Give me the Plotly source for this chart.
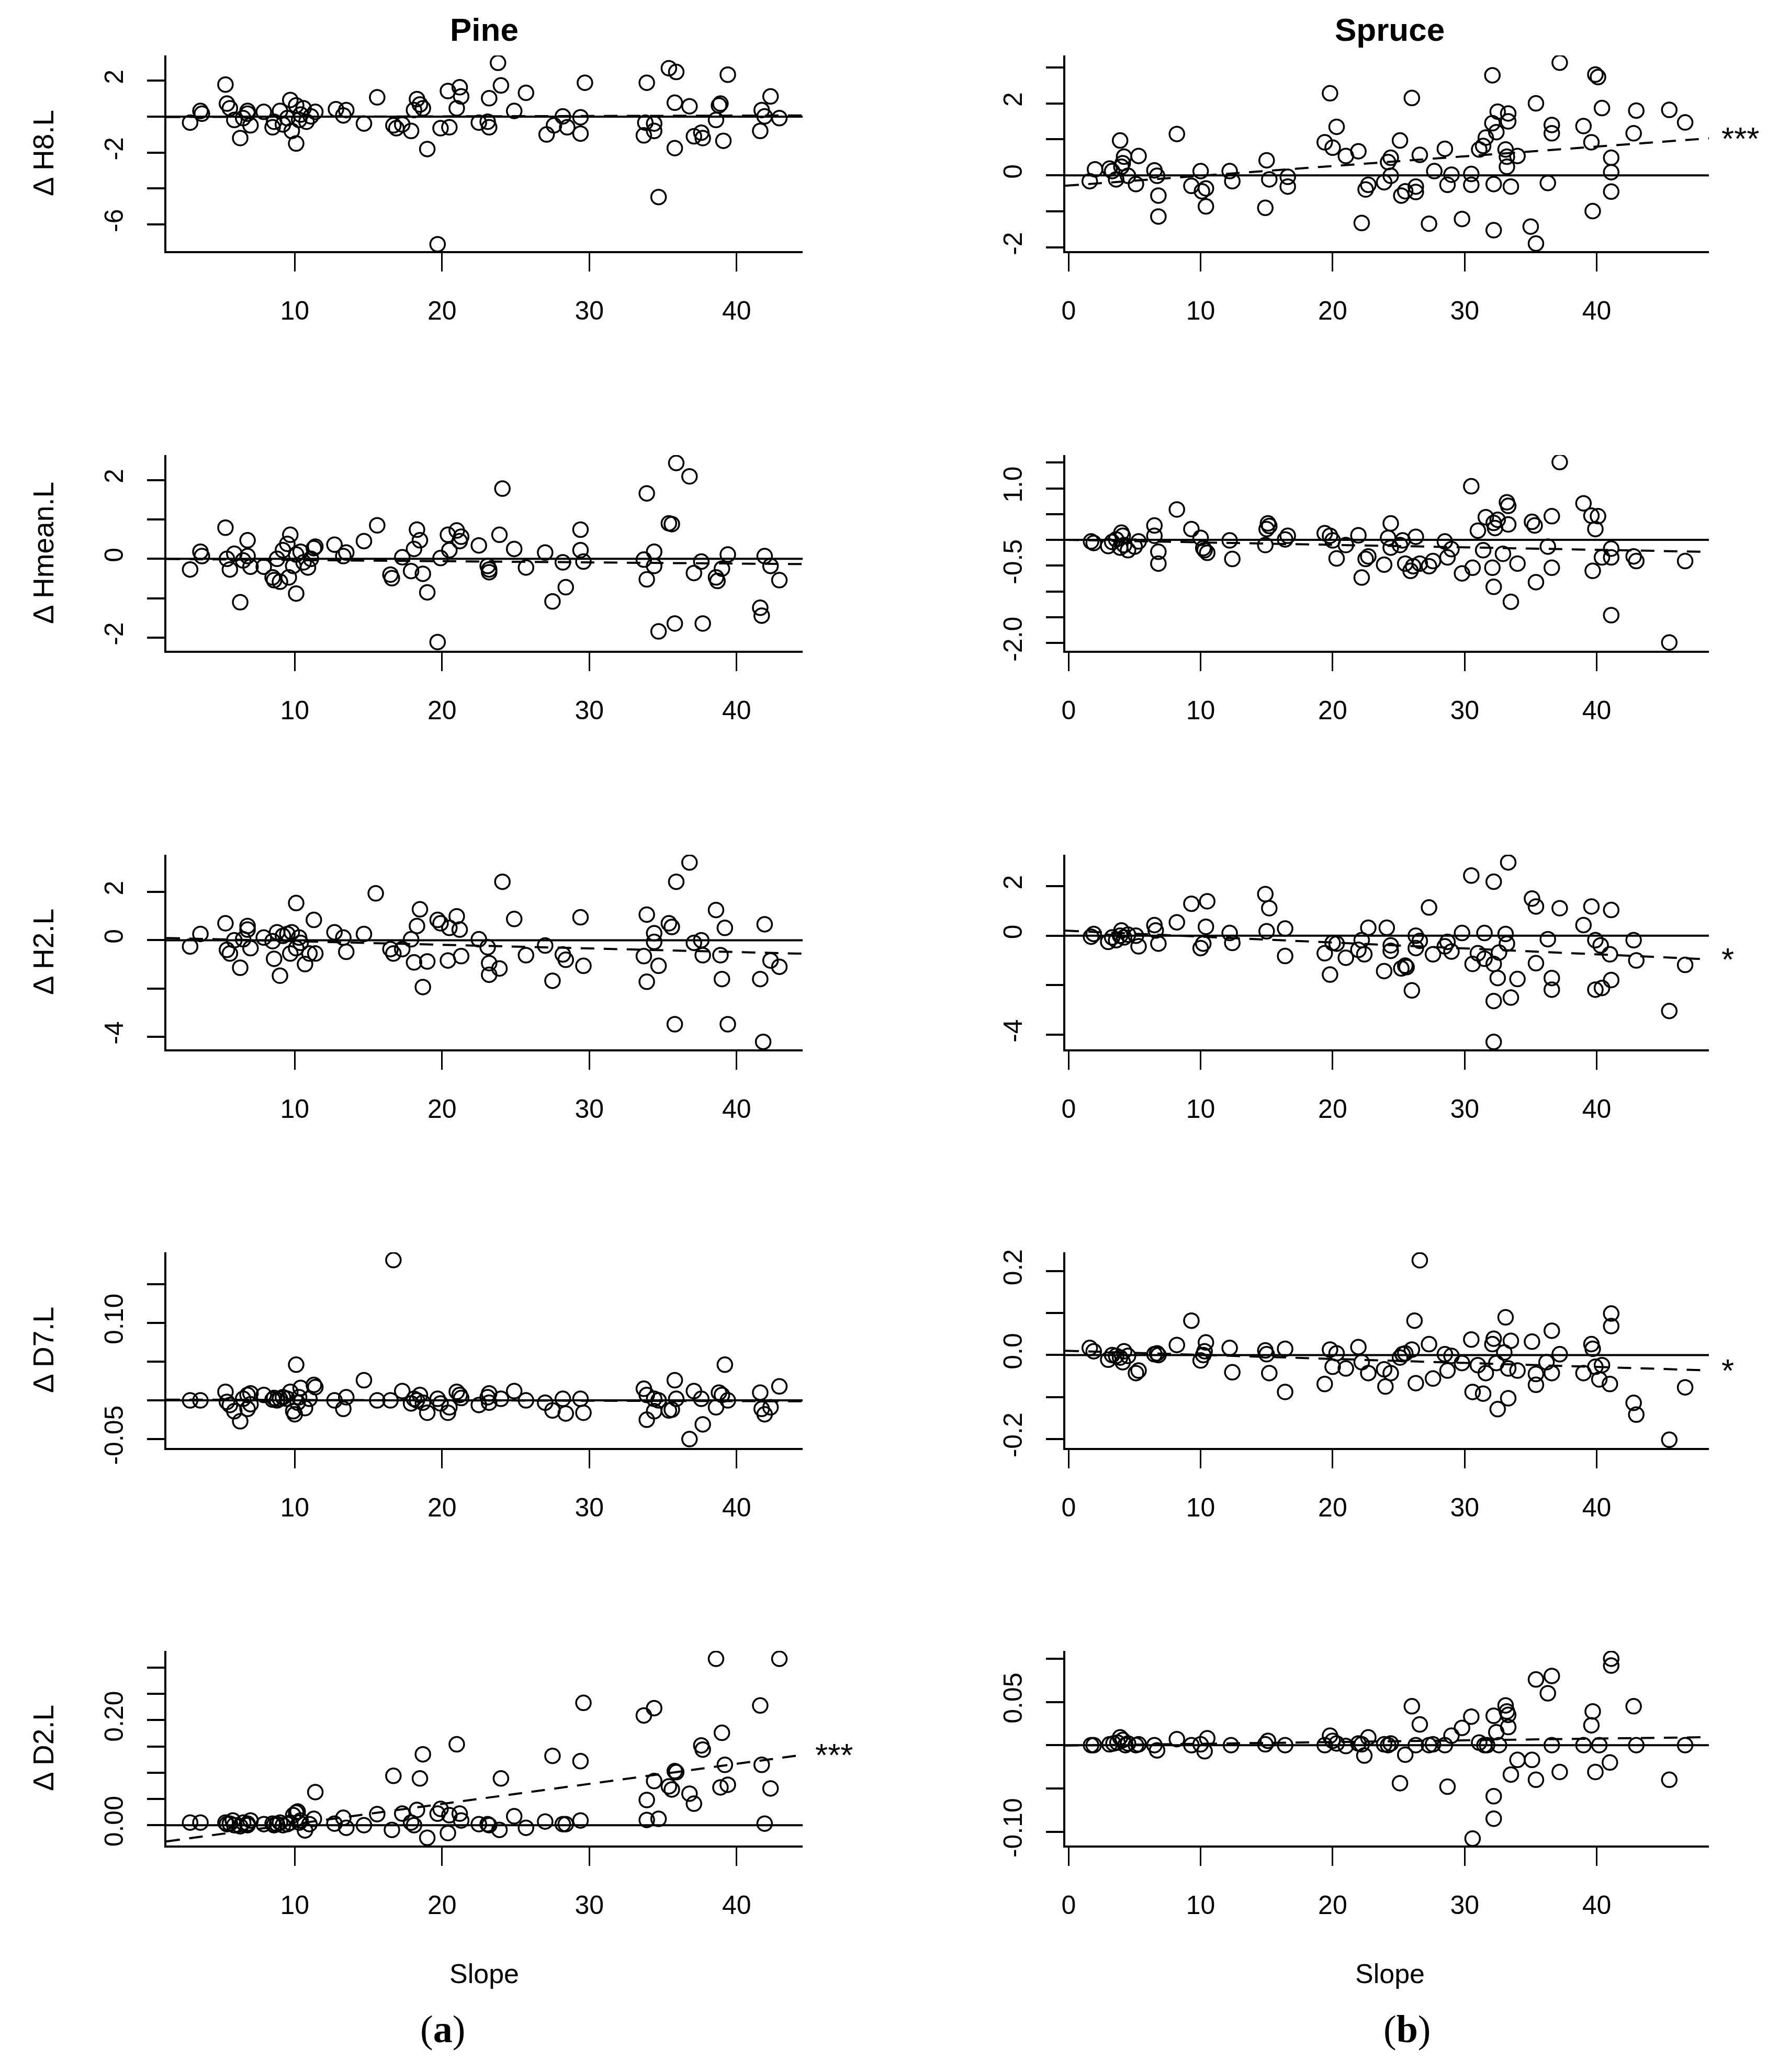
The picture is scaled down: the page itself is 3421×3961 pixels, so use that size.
import plotly.graph_objects as go

# ---------------- data: (slope, delta) ----------------
pine_h8 = [(2.9, -0.33), (3.6, 0.32), (3.7, 0.17), (5.3, 1.79), (5.4, 0.73), (5.6, 0.47),
           (5.9, -0.18), (6.3, -1.19), (6.5, -0.08), (6.8, 0.32), (6.8, 0.17), (7.0, -0.48),
           (7.9, 0.27), (8.5, -0.59), (8.6, -0.28), (9.0, 0.32), (9.2, -0.43), (9.5, -0.08),
           (9.7, 0.93), (9.8, -0.79), (10.1, -1.49), (10.1, 0.63), (10.3, -0.18), (10.4, 0.12),
           (10.6, 0.47), (10.8, -0.28), (11.1, 0.02), (11.4, 0.27), (12.8, 0.42), (13.3, 0.07),
           (13.5, 0.37), (14.7, -0.38), (15.6, 1.08), (16.7, -0.48), (16.9, -0.64), (17.3, -0.43),
           (17.9, -0.79), (18.1, 0.37), (18.3, 0.98), (18.5, 0.68), (18.7, 0.47), (19.0, -1.80),
           (19.7, -7.10), (19.9, -0.64), (20.5, -0.59), (20.4, 1.43), (21.0, 0.47), (21.2, 1.64),
           (21.3, 1.13), (22.5, -0.33), (23.1, -0.28), (23.2, 1.03), (23.2, -0.59), (23.8, 3.0),
           (24.0, 1.74), (24.9, 0.32), (25.7, 1.33), (27.1, -0.99), (27.6, -0.48), (28.2, 0.02),
           (28.5, -0.59), (29.4, -0.03), (29.4, -0.94), (29.7, 1.89), (33.7, -1.04), (33.8, -0.33),
           (33.9, 1.89), (34.4, -0.38), (34.4, -0.79), (34.7, -4.47), (35.4, 2.70), (35.8, -1.75),
           (35.9, 2.49), (35.8, 0.78), (36.8, 0.58), (37.1, -1.09), (37.6, -0.89), (37.7, -1.19),
           (38.6, -0.18), (38.8, 0.63), (38.9, 0.73), (39.1, -1.34), (39.4, 2.34), (41.6, -0.79),
           (41.7, 0.37), (41.9, 0.02), (42.3, 1.13), (42.9, -0.08)]

spruce_h8 = [(1.6, -0.16), (2.0, 0.17), (3.1, 0.19), (3.3, 0.12), (3.6, -0.11), (3.9, 0.97),
             (4.0, 0.24), (4.1, 0.34), (4.2, 0.52), (4.5, -0.01), (5.1, -0.24), (5.3, 0.54),
             (6.5, 0.14), (6.7, -0.01), (6.8, -0.56), (6.8, -1.14), (8.2, 1.15), (9.3, -0.29),
             (10.0, 0.12), (10.1, -0.44), (10.4, -0.36), (10.4, -0.86), (12.2, 0.12), (12.4, -0.16),
             (14.9, -0.90), (15.0, 0.42), (15.2, -0.11), (16.6, -0.04), (16.6, -0.31), (19.4, 0.92),
             (19.8, 2.28), (20.0, 0.77), (20.3, 1.35), (21.0, 0.54), (21.95, 0.67), (22.2, -1.32),
             (22.5, -0.39), (22.7, -0.26), (23.9, -0.19), (24.2, 0.37), (24.4, 0.49), (24.4, -0.01),
             (25.1, 0.97), (25.2, -0.56), (25.5, -0.44), (26.0, 2.15), (26.3, -0.31), (26.3, -0.46),
             (26.6, 0.57), (27.3, -1.34), (27.7, 0.12), (28.5, 0.74), (28.7, -0.26), (29.0, 0.02),
             (29.8, -1.21), (30.5, 0.04), (30.5, -0.26), (31.1, 0.72), (31.4, 0.82), (31.6, 1.05),
             (32.1, 2.78), (32.1, 1.45), (32.4, 1.20), (32.2, -0.24), (32.2, -1.52), (32.5, 1.77),
             (33.1, 0.72), (33.2, 0.24), (33.2, 0.52), (33.3, 1.72), (33.3, 1.50), (33.5, -0.31),
             (34.0, 0.54), (35.0, -1.42), (35.4, 2.00), (35.4, -1.89), (36.3, -0.21), (36.6, 1.40),
             (36.6, 1.17), (37.2, 3.13), (39.0, 1.37), (39.6, 0.92), (39.7, -0.99), (39.9, 2.80),
             (40.1, 2.73), (40.4, 1.87), (41.1, 0.49), (41.1, 0.09), (41.1, -0.45), (42.8, 1.17),
             (43.0, 1.80), (45.5, 1.82), (46.7, 1.47)]

pine_hmean = [(2.9, -0.27), (3.6, 0.18), (3.7, 0.07), (5.3, 0.79), (5.4, 0.0), (5.6, -0.27),
              (5.9, 0.13), (6.3, -1.10), (6.5, -0.04), (6.8, 0.07), (6.8, 0.47), (7.0, -0.20),
              (7.9, -0.20), (8.5, -0.47), (8.6, -0.54), (8.8, 0.0), (9.0, -0.58), (9.2, 0.22),
              (9.5, 0.38), (9.6, -0.47), (9.7, 0.61), (9.9, -0.18), (10.1, -0.88), (10.1, 0.11),
              (10.4, 0.18), (10.6, -0.09), (10.9, -0.22), (11.1, 0.0), (11.3, 0.27), (11.4, 0.31),
              (12.7, 0.36), (13.3, 0.07), (13.5, 0.16), (14.7, 0.45), (15.6, 0.85), (16.5, -0.40),
              (16.6, -0.49), (17.3, 0.04), (17.9, -0.31), (18.1, 0.25), (18.3, 0.74), (18.5, 0.47),
              (18.7, -0.38), (19.0, -0.85), (19.7, -2.11), (19.9, 0.02), (20.4, 0.61), (20.5, 0.22),
              (21.0, 0.72), (21.2, 0.45), (21.3, 0.56), (22.5, 0.34), (23.1, -0.18), (23.2, -0.27),
              (23.2, -0.34), (23.9, 0.61), (24.1, 1.78), (24.9, 0.25), (25.7, -0.22), (27.0, 0.16),
              (27.5, -1.08), (28.2, -0.09), (28.4, -0.72), (29.4, 0.74), (29.4, 0.22), (29.6, -0.07),
              (33.7, -0.02), (33.9, -0.52), (33.9, 1.66), (34.4, 0.18), (34.4, -0.18), (34.7, -1.84),
              (35.4, 0.90), (35.6, 0.88), (35.8, -1.64), (35.9, 2.43), (36.8, 2.09), (37.1, -0.36),
              (37.6, -0.07), (37.7, -1.64), (38.6, -0.47), (38.7, -0.56), (39.0, -0.25), (39.4, 0.11),
              (41.6, -1.24), (41.7, -1.44), (41.9, 0.07), (42.3, -0.18), (42.9, -0.54)]

spruce_hmean = [(1.7, -0.03), (1.9, -0.06), (3.0, -0.12), (3.3, -0.04), (3.6, 0.01), (3.9, -0.15),
                (4.0, 0.14), (4.1, 0.08), (4.2, -0.10), (4.5, -0.20), (5.0, -0.13), (5.3, -0.03),
                (6.5, 0.28), (6.5, 0.08), (6.8, -0.23), (6.8, -0.46), (8.2, 0.59), (9.3, 0.21),
                (10.0, 0.04), (10.2, -0.16), (10.3, -0.20), (10.5, -0.25), (12.2, -0.01), (12.4, -0.37),
                (14.9, -0.10), (15.0, 0.21), (15.1, 0.32), (15.2, 0.27), (16.4, 0.01), (16.6, 0.08),
                (19.4, 0.13), (19.8, 0.08), (20.0, -0.01), (20.3, -0.36), (21.0, -0.10), (21.95, 0.09),
                (22.2, -0.73), (22.5, -0.37), (22.7, -0.32), (23.9, -0.48), (24.2, 0.04), (24.4, 0.32),
                (24.4, -0.15), (25.1, -0.10), (25.3, -0.01), (25.5, -0.46), (25.9, -0.60), (26.1, -0.51),
                (26.3, 0.06), (26.6, -0.46), (27.3, -0.51), (27.6, -0.41), (28.5, -0.03), (28.7, -0.34),
                (29.0, -0.18), (29.8, -0.65), (30.5, 1.04), (30.6, -0.54), (31.0, 0.18), (31.4, -0.20),
                (31.6, 0.44), (32.1, -0.54), (32.2, -0.91), (32.2, 0.33), (32.3, 0.23), (32.5, 0.39),
                (32.9, -0.27), (33.2, 0.73), (33.3, 0.66), (33.3, 0.30), (33.5, -1.20), (34.0, -0.46),
                (35.1, 0.35), (35.3, 0.28), (35.4, -0.82), (36.3, -0.13), (36.6, -0.54), (36.6, 0.46),
                (37.2, 1.51), (39.0, 0.71), (39.6, 0.47), (39.7, -0.60), (39.9, 0.21), (40.1, 0.46),
                (40.4, -0.34), (41.1, -0.17), (41.1, -0.34), (41.1, -1.46), (42.8, -0.32), (43.0, -0.41),
                (45.5, -1.99), (46.7, -0.41)]

pine_h2 = [(2.9, -0.26), (3.6, 0.26), (5.3, 0.70), (5.4, -0.40), (5.6, -0.55), (5.9, 0.0),
           (6.3, -1.14), (6.5, 0.04), (6.8, 0.59), (6.8, 0.44), (7.0, -0.33), (7.9, 0.11),
           (8.5, -0.04), (8.6, -0.77), (8.8, 0.33), (9.0, -1.47), (9.2, 0.18), (9.5, 0.26),
           (9.7, -0.55), (9.8, 0.33), (10.1, 1.54), (10.1, -0.33), (10.3, 0.11), (10.4, -0.11),
           (10.7, -0.99), (11.0, -0.55), (11.3, 0.84), (11.4, -0.55), (12.7, 0.33), (13.3, 0.11),
           (13.5, -0.48), (14.7, 0.26), (15.5, 1.94), (16.5, -0.37), (16.7, -0.55), (17.3, -0.37),
           (17.9, 0.04), (18.1, -0.92), (18.3, 0.59), (18.5, 1.28), (18.7, -1.94), (19.0, -0.88),
           (19.7, 0.84), (19.9, 0.70), (20.4, -0.84), (20.5, 0.51), (21.0, 0.99), (21.2, 0.44),
           (21.3, -0.66), (22.5, 0.04), (23.1, -0.29), (23.2, -0.95), (23.2, -1.43), (23.9, -1.17),
           (24.1, 2.42), (24.9, 0.88), (25.7, -0.62), (27.0, -0.22), (27.5, -1.68), (28.2, -0.59),
           (28.4, -0.81), (29.4, 0.95), (29.6, -1.06), (33.7, -0.66), (33.9, -1.72), (33.9, 1.06),
           (34.4, 0.29), (34.4, -0.07), (34.7, -1.06), (35.4, 0.70), (35.6, 0.55), (35.8, -3.48),
           (35.9, 2.42), (36.8, 3.22), (37.1, -0.11), (37.6, 0.0), (37.7, -0.62), (38.6, 1.25),
           (38.9, -0.62), (39.0, -1.61), (39.2, 0.51), (39.4, -3.48), (41.6, -1.61), (41.8, -4.21),
           (41.9, 0.66), (42.3, -0.84), (42.9, -1.10)]

spruce_h2 = [(1.7, -0.04), (1.9, 0.07), (3.0, -0.25), (3.3, -0.07), (3.6, -0.18), (3.9, 0.0),
             (4.0, 0.21), (4.2, -0.07), (4.5, 0.04), (5.1, 0.0), (5.3, -0.43), (6.5, 0.43),
             (6.6, 0.21), (6.8, -0.32), (8.2, 0.54), (9.3, 1.29), (10.0, -0.50), (10.2, -0.32),
             (10.4, 0.36), (10.5, 1.39), (12.2, 0.11), (12.4, -0.29), (14.9, 1.68), (15.0, 0.18),
             (15.2, 1.11), (16.4, 0.29), (16.4, -0.82), (19.4, -0.71), (19.8, -1.57), (20.0, -0.29),
             (20.3, -0.32), (21.0, -0.89), (21.95, -0.57), (22.2, -0.18), (22.4, -0.75), (22.7, 0.32),
             (23.9, -1.43), (24.1, 0.32), (24.4, -0.39), (24.4, -0.61), (25.2, -1.32), (25.5, -1.21),
             (25.6, -1.27), (26.0, -2.21), (26.3, 0.0), (26.3, -0.50), (26.6, -0.21), (27.3, 1.14),
             (27.6, -0.75), (28.5, -0.43), (28.7, -0.25), (29.0, -0.64), (29.8, 0.11), (30.5, 2.43),
             (30.6, -1.14), (31.0, -0.71), (31.5, 0.11), (31.5, -0.93), (32.2, 2.18), (32.2, -2.64),
             (32.2, -4.29), (32.2, -1.14), (32.5, -1.71), (32.6, -0.68), (33.1, 0.07), (33.2, -0.32),
             (33.3, 2.96), (33.5, -2.50), (34.0, -1.75), (35.1, 1.50), (35.4, 1.18), (35.4, -1.11),
             (36.3, -0.14), (36.6, -1.71), (36.6, -2.18), (37.2, 1.11), (39.0, 0.43), (39.6, 1.18),
             (39.9, -0.18), (39.9, -2.18), (40.3, -0.39), (40.4, -2.11), (41.0, -0.75), (41.1, 1.04),
             (41.1, -1.79), (42.8, -0.18), (43.0, -1.00), (45.5, -3.04), (46.7, -1.18)]

pine_d7 = [(2.9, 0.0), (3.6, 0.0), (5.3, 0.011), (5.4, -0.002), (5.6, -0.006), (5.9, -0.014),
           (6.3, -0.027), (6.5, 0.002), (6.8, 0.007), (6.8, -0.011), (7.0, -0.005), (7.0, 0.009),
           (7.9, 0.007), (8.5, 0.001), (8.6, 0.003), (8.8, 0.0), (9.0, 0.002), (9.2, 0.004),
           (9.5, 0.002), (9.7, 0.011), (9.9, -0.014), (10.0, -0.018), (10.1, 0.046), (10.2, -0.003),
           (10.3, 0.004), (10.4, 0.016), (10.7, -0.010), (11.0, 0.002), (11.3, 0.020), (11.4, 0.017),
           (12.7, 0.0), (13.3, -0.011), (13.5, 0.004), (14.7, 0.026), (15.6, 0.0), (16.5, 0.0),
           (16.7, 0.181), (17.3, 0.012), (17.9, -0.004), (18.1, 0.002), (18.3, 0.0), (18.5, 0.007),
           (18.7, -0.003), (19.0, -0.016), (19.7, 0.002), (19.9, -0.004), (20.4, -0.016), (20.5, -0.009),
           (21.0, 0.011), (21.2, 0.007), (21.3, 0.003), (22.5, -0.006), (23.1, 0.004), (23.2, 0.009),
           (23.2, -0.003), (24.0, 0.002), (24.9, 0.012), (25.7, 0.0), (27.0, -0.003), (27.5, -0.013),
           (28.2, 0.002), (28.4, -0.017), (29.4, 0.002), (29.6, -0.016), (33.7, 0.015), (33.9, -0.025),
           (33.9, 0.007), (34.4, -0.014), (34.4, 0.002), (34.7, 0.0), (35.4, -0.013), (35.6, -0.012),
           (35.8, 0.026), (35.9, 0.002), (36.8, -0.050), (37.1, 0.012), (37.6, 0.002), (37.7, -0.031),
           (38.6, -0.009), (38.8, 0.010), (39.0, 0.007), (39.2, 0.046), (39.4, 0.0), (41.6, 0.010),
           (41.7, -0.011), (41.9, -0.018), (42.3, -0.009), (42.9, 0.018)]

spruce_d7 = [(1.6, 0.017), (1.9, 0.009), (3.0, -0.011), (3.3, 0.0), (3.6, -0.002), (3.9, -0.006),
             (4.1, -0.017), (4.2, 0.009), (4.5, -0.002), (5.1, -0.043), (5.3, -0.037), (6.5, 0.002),
             (6.7, 0.004), (6.8, 0.0), (8.2, 0.024), (9.3, 0.082), (10.0, -0.013), (10.2, 0.0),
             (10.3, 0.009), (10.4, 0.030), (12.2, 0.017), (12.4, -0.041), (14.9, 0.011), (15.0, 0.002),
             (15.2, -0.043), (16.4, 0.015), (16.4, -0.088), (19.4, -0.069), (19.8, 0.013), (20.0, -0.028),
             (20.3, 0.004), (21.0, -0.032), (21.95, 0.019), (22.2, -0.017), (22.7, -0.043), (23.9, -0.034),
             (24.0, -0.075), (24.4, -0.043), (25.1, -0.006), (25.3, 0.002), (25.5, 0.004), (26.0, 0.013),
             (26.2, 0.082), (26.3, -0.067), (26.6, 0.226), (27.3, 0.026), (27.6, -0.056), (28.5, 0.002),
             (28.7, -0.037), (29.0, -0.002), (29.8, -0.019), (30.5, 0.037), (30.6, -0.088), (31.0, -0.024),
             (31.4, -0.092), (31.6, -0.043), (32.1, 0.026), (32.2, 0.039), (32.4, -0.019), (32.5, -0.129),
             (33.0, 0.006), (33.1, 0.090), (33.3, -0.103), (33.3, -0.032), (33.5, 0.034), (34.0, -0.037),
             (35.1, 0.032), (35.4, -0.045), (35.4, -0.071), (36.2, -0.017), (36.6, 0.058), (36.6, -0.043),
             (37.2, 0.002), (39.0, -0.043), (39.6, 0.026), (39.7, 0.015), (39.9, -0.028), (40.2, -0.058),
             (40.4, -0.024), (41.0, -0.069), (41.1, 0.099), (41.1, 0.069), (42.8, -0.114), (43.0, -0.142),
             (45.5, -0.202), (46.7, -0.077)]

pine_d2 = [(2.9, 0.005), (3.6, 0.005), (5.3, 0.005), (5.4, 0.002), (5.6, 0.003), (5.8, 0.009),
           (5.9, 0.0), (6.3, -0.002), (6.5, 0.005), (6.8, 0.0), (6.8, 0.003), (7.0, 0.009),
           (7.9, 0.002), (8.5, 0.003), (8.6, 0.0), (8.8, 0.002), (9.0, 0.005), (9.2, 0.0),
           (9.5, 0.002), (9.7, 0.005), (9.9, 0.019), (10.1, 0.024), (10.2, 0.026), (10.3, 0.005),
           (10.4, 0.009), (10.7, -0.010), (11.0, 0.002), (11.3, 0.012), (11.4, 0.063), (12.7, 0.003),
           (13.3, 0.014), (13.5, -0.005), (14.7, 0.0), (15.6, 0.021), (16.6, -0.009), (16.7, 0.094),
           (17.3, 0.022), (17.9, 0.005), (18.1, 0.0), (18.3, 0.029), (18.5, 0.089), (18.7, 0.135),
           (19.0, -0.024), (19.7, 0.022), (19.9, 0.031), (20.4, -0.015), (20.5, 0.019), (21.0, 0.154),
           (21.2, 0.022), (21.3, 0.009), (22.5, 0.002), (23.1, 0.002), (23.2, 0.0), (23.9, -0.009),
           (24.0, 0.089), (24.9, 0.017), (25.7, -0.005), (27.0, 0.007), (27.5, 0.132), (28.2, 0.002),
           (28.4, 0.002), (29.4, 0.009), (29.4, 0.122), (29.6, 0.233), (33.7, 0.209), (33.9, 0.048),
           (33.9, 0.010), (34.4, 0.084), (34.4, 0.223), (34.7, 0.012), (35.4, 0.074), (35.6, 0.068),
           (35.8, 0.103), (35.9, 0.101), (36.8, 0.060), (37.1, 0.041), (37.6, 0.152), (37.7, 0.144),
           (38.6, 0.317), (38.9, 0.072), (39.0, 0.176), (39.2, 0.115), (39.4, 0.077), (41.6, 0.228),
           (41.7, 0.115), (41.9, 0.003), (42.3, 0.070), (42.9, 0.317)]

spruce_d2 = [(1.7, 0.0), (1.9, 0.0), (3.1, 0.001), (3.4, 0.002), (3.7, 0.003), (3.9, 0.009),
             (4.1, 0.006), (4.3, 0.0), (4.5, 0.002), (5.1, 0.0), (5.3, 0.001), (6.5, 0.0),
             (6.7, -0.006), (8.2, 0.007), (9.3, 0.0), (10.0, 0.001), (10.3, -0.007), (10.5, 0.008),
             (12.3, 0.0), (14.9, 0.001), (15.1, 0.005), (16.4, 0.0), (19.4, 0.0), (19.8, 0.011),
             (20.0, 0.005), (20.3, 0.002), (21.0, -0.001), (21.95, 0.002), (22.2, 0.001), (22.4, -0.012),
             (22.7, 0.009), (23.9, 0.001), (24.2, 0.0), (24.4, 0.002), (25.1, -0.044), (25.5, -0.011),
             (26.0, 0.045), (26.3, 0.0), (26.6, 0.024), (27.3, 0.0), (27.6, 0.001), (28.5, 0.0),
             (28.7, -0.048), (29.0, 0.011), (29.8, 0.020), (30.5, 0.033), (30.6, -0.108), (31.1, 0.003),
             (31.5, 0.0), (31.7, 0.0), (32.2, -0.059), (32.2, -0.085), (32.2, 0.034), (32.4, 0.015),
             (32.6, 0.0), (33.1, 0.046), (33.2, 0.039), (33.3, 0.035), (33.3, 0.021), (33.5, -0.034),
             (34.0, -0.017), (35.1, -0.017), (35.4, 0.076), (35.4, -0.040), (36.3, 0.060), (36.6, 0.080),
             (36.6, 0.0), (37.2, -0.031), (39.0, 0.0), (39.6, 0.023), (39.7, 0.039), (39.9, -0.031),
             (40.2, 0.0), (41.0, -0.020), (41.1, 0.100), (41.1, 0.092), (42.8, 0.045), (43.0, 0.0),
             (45.5, -0.040), (46.7, 0.0)]

# dashed regression lines: [intercept, slope]
pine_h8_fit = [-0.02, 0.002]
spruce_h8_fit = [-0.28, 0.027]
pine_hmean_fit = [0.0, -0.003]
spruce_hmean_fit = [0.0, -0.0048]
pine_h2_fit = [0.11, -0.015]
spruce_h2_fit = [0.2, -0.0238]
pine_d7_fit = [0.001, -0.00005]
spruce_d7_fit = [0.01, -0.00096]
pine_d2_fit = [-0.0359, 0.00382]
spruce_d2_fit = [-0.0004, 0.0002]

# significance marks next to the fitted lines
pine_signif = ["", "", "", "", "***"]
spruce_signif = ["***", "", "*", "*", ""]

species = ["Pine", "Spruce"]
panel_tags = ["a", "b"]
variables = ["\u0394 H8.L", "\u0394 Hmean.L", "\u0394 H2.L", "\u0394 D7.L", "\u0394 D2.L"]
pine_xticks = [10, 20, 30, 40]
spruce_xticks = [0, 10, 20, 30, 40]

pine_yticks = [[-6, -4, -2, 0, 2], [-2, -1, 0, 1, 2], [-4, -2, 0, 2],
               [-0.05, 0, 0.05, 0.10, 0.15], [0, 0.05, 0.10, 0.15, 0.20, 0.25, 0.30]]
pine_ylabels = [["-6", "", "-2", "", "2"], ["-2", "", "0", "", "2"], ["-4", "", "0", "2"],
                ["-0.05", "", "", "0.10", ""], ["0.00", "", "", "", "0.20", "", ""]]
spruce_yticks = [[-2, -1, 0, 1, 2, 3], [-2, -1.5, -1, -0.5, 0, 0.5, 1, 1.5], [-4, -2, 0, 2],
                 [-0.2, -0.1, 0, 0.1, 0.2], [-0.10, -0.05, 0, 0.05, 0.10]]
spruce_ylabels = [["-2", "", "0", "", "2", ""], ["-2.0", "", "", "-0.5", "", "", "1.0", ""],
                  ["-4", "", "0", "2"], ["-0.2", "", "0.0", "", "0.2"], ["-0.10", "", "", "0.05", ""]]

# ---------------- layout ----------------
W, H = 3421, 3961
SANS = "Liberation Sans, Arial, sans-serif"
SERIF = "Liberation Serif, Times New Roman, serif"

COL_X = [(318, 1534), (2036, 3266)]
ROW_Y = [(106, 480), (870, 1244), (1634, 2006), (2394, 2768), (3156, 3528)]
X_RANGE = [[1.29, 44.48], [-0.25, 48.5]]
Y_RANGE = [[[-7.48, 3.41], [-2.10, 3.33]],
           [[-2.33, 2.63], [-2.15, 1.645]],
           [[-4.52, 3.54], [-4.59, 3.27]],
           [[-0.0614, 0.191], [-0.2215, 0.245]],
           [[-0.0387, 0.332], [-0.116, 0.109]]]

pine_data = [pine_h8, pine_hmean, pine_h2, pine_d7, pine_d2]
spruce_data = [spruce_h8, spruce_hmean, spruce_h2, spruce_d7, spruce_d2]
pine_fits = [pine_h8_fit, pine_hmean_fit, pine_h2_fit, pine_d7_fit, pine_d2_fit]
spruce_fits = [spruce_h8_fit, spruce_hmean_fit, spruce_h2_fit, spruce_d7_fit, spruce_d2_fit]


def fx(p):
    return p / W


def fy(p):
    return 1 - p / H


def paper_text(text, px, py, size, family=SANS, angle=0):
    return dict(text=text, x=fx(px), y=fy(py), xref="paper", yref="paper",
                xanchor="center", yanchor="middle", textangle=angle, showarrow=False,
                font=dict(family=family, size=size, color="black"))


fig = go.Figure()
layout = {}
shapes = []
annotations = []

for r in range(5):
    for c in range(2):
        k = 2 * r + c + 1
        sfx = "" if k == 1 else str(k)
        pts = pine_data[r] if c == 0 else spruce_data[r]
        fit = pine_fits[r] if c == 0 else spruce_fits[r]
        xs = [p[0] for p in pts]
        ys = [p[1] for p in pts]
        xr = X_RANGE[c]
        yr = Y_RANGE[r][c]

        fig.add_trace(go.Scatter(
            x=xs, y=ys, mode="markers", xaxis="x" + sfx, yaxis="y" + sfx,
            marker=dict(symbol="circle-open", size=28, color="black", line=dict(width=3.5)),
            showlegend=False, hoverinfo="x+y"))

        # fitted line across the plot region
        fig.add_trace(go.Scatter(
            x=xr, y=[fit[0] + fit[1] * v for v in xr], mode="lines",
            xaxis="x" + sfx, yaxis="y" + sfx,
            line=dict(color="black", width=4, dash="26px,18px"),
            showlegend=False, hoverinfo="skip"))

        shapes.append(dict(type="line", xref="x" + sfx + " domain", x0=0, x1=1,
                           yref="y" + sfx, y0=0, y1=0, line=dict(color="black", width=4)))

        top, bot = ROW_Y[r]
        left, right = COL_X[c]
        layout["xaxis" + sfx] = dict(
            domain=[fx(left), fx(right)], range=xr, anchor="y" + sfx, automargin=False,
            showline=True, linecolor="black", linewidth=4, mirror=False,
            ticks="outside", ticklen=35, tickwidth=3, tickcolor="black",
            tickvals=pine_xticks if c == 0 else spruce_xticks,
            tickfont=dict(family=SANS, size=50, color="black"),
            ticklabelstandoff=32, showgrid=False, zeroline=False)
        layout["yaxis" + sfx] = dict(
            domain=[fy(bot), fy(top)], range=yr, anchor="x" + sfx, automargin=False,
            showline=True, linecolor="black", linewidth=4, mirror=False,
            ticks="outside", ticklen=33, tickwidth=4, tickcolor="black",
            tickvals=(pine_yticks if c == 0 else spruce_yticks)[r],
            ticktext=(pine_ylabels if c == 0 else spruce_ylabels)[r],
            tickangle=-90, tickfont=dict(family=SANS, size=50, color="black"),
            ticklabelstandoff=26, showgrid=False, zeroline=False)

        mark = (pine_signif if c == 0 else spruce_signif)[r]
        if mark:
            annotations.append(dict(
                text=mark, xref="x" + sfx + " domain", x=1.018, xanchor="left",
                yref="y" + sfx, y=fit[0] + fit[1] * xr[1], yanchor="middle",
                showarrow=False, font=dict(family=SANS, size=62, color="black")))

    top, bot = ROW_Y[r]
    annotations.append(paper_text(variables[r], 83, (top + bot) / 2, 55, angle=-90))

for c, name in enumerate(species):
    cx = [925, 2656][c]
    annotations.append(paper_text("<b>" + name + "</b>", cx, 56, 62))
    annotations.append(paper_text("Slope", cx, 3773, 52))
    annotations.append(paper_text("(<b>" + panel_tags[c] + "</b>)", [846, 2689][c], 3879, 74,
                                  family=SERIF))

fig.update_layout(
    width=W, height=H, autosize=False,
    margin=dict(l=0, r=0, t=0, b=0, pad=0, autoexpand=False),
    paper_bgcolor="white", plot_bgcolor="white",
    shapes=shapes, annotations=annotations, **layout)

fig.write_html("out.html", config={"displayModeBar": False},
               post_script="document.body.style.margin = '0';")
